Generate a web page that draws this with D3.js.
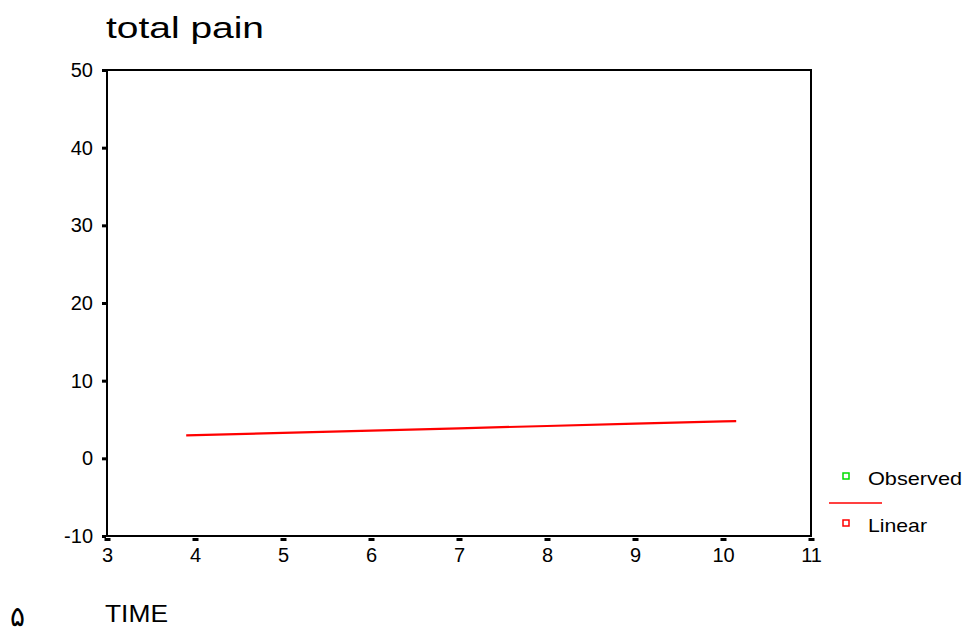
<!DOCTYPE html>
<html><head><meta charset="utf-8">
<script src="https://cdn.jsdelivr.net/npm/d3@7"></script>
<style>body{margin:0;background:#fff}svg{display:block}text{font-family:"Liberation Sans",Arial,sans-serif}</style>
</head><body>
<svg id="c" width="965" height="631"></svg>
<script>
const title = "total pain";
const xLabel = "TIME";
const xTicks = [3,4,5,6,7,8,9,10,11];
const yTicks = [-10,0,10,20,30,40,50];
const observedTime = [];
const observedValue = [];
const fitTime = [3.9, 5, 6, 7, 8, 9, 10, 10.15];
const fitValue = [2.95, 3.28, 3.57, 3.87, 4.16, 4.46, 4.76, 4.8];
const legendLabels = ["Observed", "Linear"];
const legendColors = ["#00dd00", "#ff0000"];

const svg = d3.select("#c");
const x = d3.scaleLinear().domain([3,11]).range([107,811]);
const y = d3.scaleLinear().domain([-10,50]).range([536,70]);

svg.append("text").attr("x",106).attr("y",38).attr("font-size",30)
  .attr("textLength",158).attr("lengthAdjust","spacingAndGlyphs").text(title);

// frame
svg.append("rect").attr("x",x(3)).attr("y",y(50)).attr("width",x(11)-x(3)).attr("height",y(-10)-y(50))
  .attr("fill","none").attr("stroke","#000").attr("stroke-width",2);

// y ticks
const yAxis = d3.axisLeft(y).tickValues(yTicks).tickSize(0).tickPadding(14).tickFormat(d=>String(d));
const gy = svg.append("g").attr("transform",`translate(${x(3)},0)`).call(yAxis);
gy.select(".domain").remove();
gy.selectAll("text").attr("font-size",20).attr("fill","#000").attr("font-family","Liberation Sans, Arial, sans-serif");
gy.selectAll(".tick").append("rect").attr("x",-5).attr("y",-1.5).attr("width",4).attr("height",3).attr("fill","#000");

const xAxis = d3.axisBottom(x).tickValues(xTicks).tickSize(0).tickPadding(12).tickFormat(d=>String(d));
const gx = svg.append("g").attr("transform",`translate(0,${y(-10)})`).call(xAxis);
gx.select(".domain").remove();
gx.selectAll("text").attr("font-size",20).attr("fill","#000").attr("font-family","Liberation Sans, Arial, sans-serif");
gx.selectAll(".tick").append("rect").attr("x",-3).attr("y",2).attr("width",6).attr("height",3).attr("fill","#000");

// observed points (none visible)
svg.selectAll(".obs").data(observedTime.map((t,i)=>[t,observedValue[i]])).enter().append("rect")
  .attr("x",d=>x(d[0])-3).attr("y",d=>y(d[1])-3).attr("width",6).attr("height",6)
  .attr("fill","none").attr("stroke",legendColors[0]);

// fit line
const line = d3.line().x(d=>x(d[0])).y(d=>y(d[1]));
svg.append("path").datum(fitTime.map((t,i)=>[t,fitValue[i]])).attr("d",line)
  .attr("fill","none").attr("stroke","#ff0000").attr("stroke-width",2.2);

// legend
svg.append("rect").attr("x",843).attr("y",473).attr("width",6).attr("height",6).attr("fill","none").attr("stroke",legendColors[0]).attr("stroke-width",1.5);
svg.append("text").attr("x",868).attr("y",485).attr("font-size",19).attr("textLength",94).attr("lengthAdjust","spacingAndGlyphs").text(legendLabels[0]);
svg.append("line").attr("x1",829).attr("x2",882).attr("y1",503).attr("y2",503).attr("stroke",legendColors[1]).attr("stroke-width",1.5);
svg.append("rect").attr("x",843).attr("y",520).attr("width",6).attr("height",6).attr("fill","none").attr("stroke",legendColors[1]).attr("stroke-width",1.5);
svg.append("text").attr("x",868).attr("y",532).attr("font-size",19).attr("textLength",59).attr("lengthAdjust","spacingAndGlyphs").text(legendLabels[1]);

svg.append("text").attr("x",105).attr("y",622).attr("font-size",23).attr("textLength",63).attr("lengthAdjust","spacingAndGlyphs").text(xLabel);
svg.append("text").attr("x",10).attr("y",626).attr("font-size",28).attr("font-family","DejaVu Sans").text("۵");
</script>
</body></html>
